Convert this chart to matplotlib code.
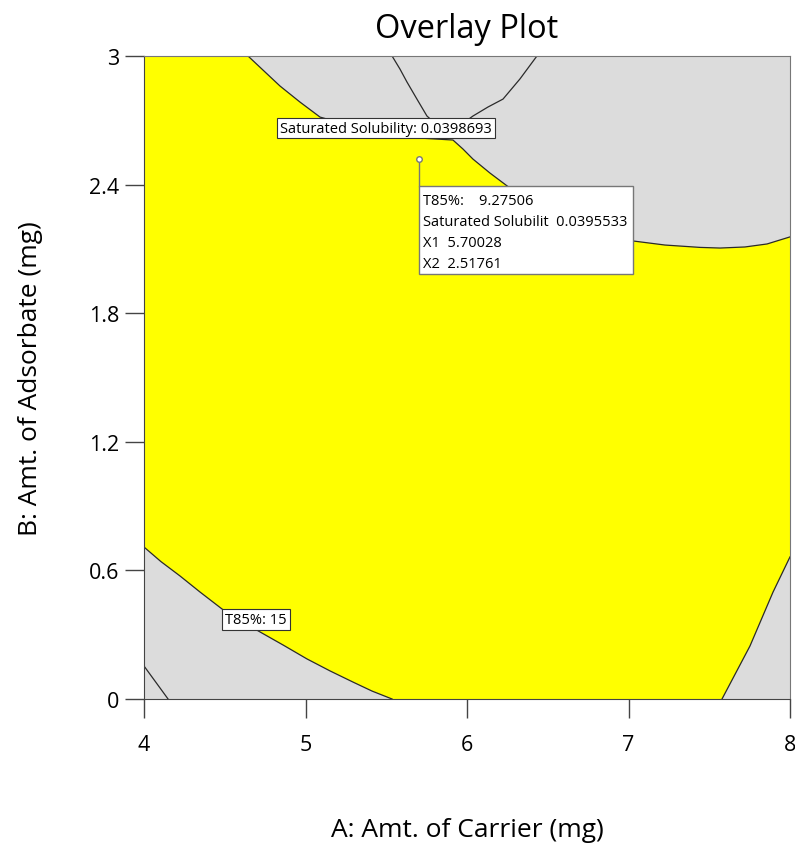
import matplotlib
matplotlib.use("Agg")
from matplotlib import pyplot as plt
from matplotlib.patches import Polygon, Rectangle

plt.rcParams['font.family'] = ['Open Sans', 'DejaVu Sans']

# Saturated Solubility contour (upper grey region edge)
sol_x = [4.644, 4.743, 4.842, 4.966, 5.090, 5.307, 5.523, 5.709, 5.913, 5.975, 6.037, 6.142, 6.248,
         6.390, 6.576, 6.793, 7.028, 7.226, 7.443, 7.567, 7.721, 7.858, 8.0]
sol_y = [3.000, 2.930, 2.860, 2.785, 2.715, 2.669, 2.631, 2.617, 2.608, 2.566, 2.519, 2.454, 2.394,
         2.319, 2.244, 2.184, 2.137, 2.118, 2.107, 2.104, 2.109, 2.123, 2.156]

# inner arc at the top
arc_x = [5.536, 5.585, 5.628, 5.690, 5.752, 5.814, 5.895, 5.969, 6.037, 6.130, 6.223, 6.328, 6.433]
arc_y = [3.000, 2.939, 2.879, 2.799, 2.720, 2.678, 2.660, 2.683, 2.720, 2.762, 2.799, 2.893, 3.000]

# T85% = 15 contour (lower left)
t85_x = [4.0, 4.105, 4.223, 4.347, 4.483, 4.601, 4.718, 4.861, 5.009, 5.152, 5.294, 5.412, 5.536]
t85_y = [0.709, 0.641, 0.574, 0.499, 0.420, 0.364, 0.313, 0.252, 0.187, 0.131, 0.079, 0.037, 0.0]

# small corner contour
corner_x = [4.0, 4.149]
corner_y = [0.154, 0.0]

# lower right grey region edge
lr_x = [7.579, 7.752, 7.895, 8.0]
lr_y = [0.0, 0.247, 0.499, 0.663]

# flag point
pt_x, pt_y = 5.70028, 2.51761
flag_lines = ["T85%:    9.27506", "Saturated Solubilit  0.0395533", "X1  5.70028", "X2  2.51761"]

xticks = [4, 5, 6, 7, 8]
yticks = [0, 0.6, 1.2, 1.8, 2.4, 3]
yticklabels = ["0", "0.6", "1.2", "1.8", "2.4", "3"]

grey = "#dcdcdc"
edge = "#2a2a2a"
fs_note = 10.5

fig = plt.figure(figsize=(7.95, 8.45), dpi=100)
ax = fig.add_axes([144/795, 145/845, 646/795, 643/845])
ax.set_facecolor("#ffff00")
ax.set_xlim(4, 8)
ax.set_ylim(0, 3)

# grey regions
up = list(zip(sol_x, sol_y)) + [(8, 3)]
ax.add_patch(Polygon(up, closed=True, facecolor=grey, edgecolor="none", zorder=1))
ll = list(zip(t85_x, t85_y)) + [(4, 0)]
ax.add_patch(Polygon(ll, closed=True, facecolor=grey, edgecolor="none", zorder=1))
lr = list(zip(lr_x, lr_y)) + [(8, 0)]
ax.add_patch(Polygon(lr, closed=True, facecolor=grey, edgecolor="none", zorder=1))

for xs, ys in [(sol_x, sol_y), (arc_x, arc_y), (t85_x, t85_y), (corner_x, corner_y), (lr_x, lr_y)]:
    ax.plot(xs, ys, color=edge, lw=0.9, zorder=2, solid_joinstyle="round")

# contour labels
ax.text(5.498, 2.664, "Saturated Solubility: 0.0398693", fontsize=fs_note, ha="center", va="center", zorder=4,
        bbox=dict(boxstyle="square,pad=0.2", fc="white", ec="#333333", lw=0.8))
ax.text(4.693, 0.369, "T85%: 15", fontsize=fs_note, ha="center", va="center", zorder=4,
        bbox=dict(boxstyle="square,pad=0.2", fc="white", ec="#333333", lw=0.8))

# flag
box_top = 2.394
box_bot = 1.983
box_right = 7.028
ax.plot([pt_x, pt_x], [pt_y, box_top], color="#777777", lw=1, zorder=3)
ax.plot(pt_x, pt_y, "o", ms=4, mfc="white", mec="#777777", mew=1, zorder=5)
ax.add_patch(Rectangle((pt_x, box_bot), box_right - pt_x, box_top - box_bot,
                       fc="white", ec="#777777", lw=1, zorder=4))
for i, line in enumerate(flag_lines):
    ax.text(pt_x + 0.03, box_top - 0.066 - i * 0.099, line, fontsize=fs_note, ha="left", va="center", zorder=5)

ax.set_xticks(xticks)
ax.set_yticks(yticks)
ax.set_yticklabels(yticklabels)
ax.tick_params(direction="out", length=14, width=1, color="#444444", labelsize=15.5)
ax.tick_params(axis="x", pad=11)
ax.tick_params(axis="y", pad=4)
for s in ["left", "bottom"]:
    ax.spines[s].set_color("#444444")
for s in ["top", "right"]:
    ax.spines[s].set_color("#777777")

ax.text(0.5, 1.042, "Overlay Plot", transform=ax.transAxes, ha="center", va="center", fontsize=23.5)
ax.set_xlabel("A: Amt. of Carrier (mg)", fontsize=19)
ax.set_ylabel("B: Amt. of Adsorbate (mg)", fontsize=19)
ax.xaxis.set_label_coords(0.5, -0.184)
ax.yaxis.set_label_coords(-0.157, 0.5)

fig.savefig("out.png", dpi=100)
